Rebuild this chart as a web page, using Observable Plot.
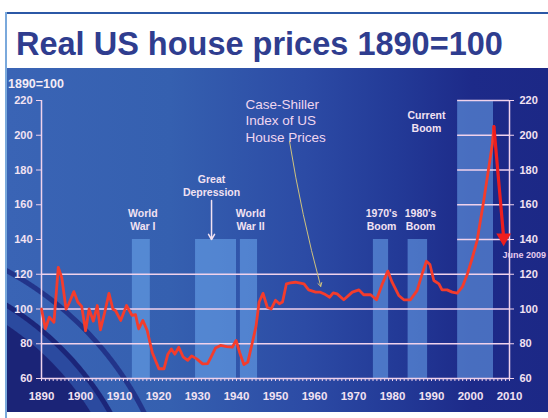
<!DOCTYPE html>
<html>
<head>
<meta charset="utf-8">
<script src="https://cdn.jsdelivr.net/npm/d3@7"></script>
<script src="https://cdn.jsdelivr.net/npm/@observablehq/plot@0.6"></script>
<style>
  html, body { margin: 0; padding: 0; background: #fff; }
  body { width: 548px; height: 418px; position: relative; overflow: hidden; font-family: 'Liberation Sans', Arial, sans-serif; }
  #topline { position: absolute; left: 6px; top: 12px; width: 542px; height: 2px; background: #2b58a6; }
  #leftline { position: absolute; left: 5px; top: 12px; width: 2px; height: 406px; background: #7aa9dc; }
  #title { position: absolute; left: 16px; top: 28px; font-size: 32.5px; line-height: 32px; font-weight: bold; color: #2f3d8f; white-space: nowrap; }
  #panel { position: absolute; left: 7px; top: 68px; width: 541px; height: 344px;
    background:
      radial-gradient(circle at -157px 492px, #1b2477 0 282px, #2b4a9f 283px 296px, #1b2579 297px 301px, rgba(0,0,0,0) 302px),
      radial-gradient(circle at -157px 492px, rgba(0,0,0,0) 0 326px, #22348a 327px 331px, rgba(0,0,0,0) 332px),
      linear-gradient(90deg, #3a64b5 0%, #3560b0 30%, #2c4ba5 55%, #233a97 72%, #1d2a89 86%, #1c2886 100%);
  }
  #base { position: absolute; left: 8px; top: 77px; font-size: 12.5px; font-weight: bold; color: #f4ecf6; }
  #panel svg { overflow: visible; position: absolute; left: 0; top: 0; }
</style>
</head>
<body>
<div id="topline"></div>
<div id="leftline"></div>
<div id="title">Real US house prices 1890=100</div>
<div id="panel"></div>
<div id="base">1890=100</div>
<script>
// ---- Data ----
const years = [1890, 1891, 1892, 1893.2, 1894.3, 1895.2, 1896.3, 1897, 1898.3, 1899.3,
  1900.3, 1901.3, 1902.2, 1903.3, 1904.3, 1905.1, 1906.2, 1907.3, 1908.3, 1909,
  1910.3, 1911.8, 1913.2, 1914.1, 1914.9, 1916, 1917.1, 1918.4, 1920.1, 1921.4,
  1922.4, 1923.3, 1924.2, 1925.2, 1926.3, 1927.5, 1928.5, 1929.8, 1931.3, 1932.6,
  1933.5, 1934.6, 1935.9, 1937.5, 1938.9, 1939.9, 1940.8, 1941.9, 1942.9, 1944.2,
  1945, 1945.8, 1946.8, 1947.9, 1948.9, 1950, 1951, 1951.8, 1952.8, 1953.8,
  1955.1, 1957.3, 1958.5, 1960.3, 1961.5, 1962.8, 1963.9, 1964.8, 1965.8, 1967.5,
  1969.7, 1971.4, 1972.6, 1974.4, 1975.9, 1977.4, 1978.8, 1979.9, 1981.6, 1982.9,
  1984.6, 1986.3, 1987.6, 1988.7, 1989.6, 1990.6, 1991.9, 1992.7, 1994, 1995.3,
  1996.6, 1997.9, 1999.2, 2000.4, 2001.7, 2003.4, 2004.7, 2005.6, 2006];
const prices = [100, 88.6, 95.3, 92.4, 124, 118, 100, 103, 110, 104,
  101.5, 87.5, 100, 93, 102, 88, 98, 109, 100, 99,
  93.4, 102, 96.3, 96.8, 88.6, 93.4, 87.6, 75, 65.6, 65.6,
  74, 77, 74, 78, 72.5, 70.5, 73, 71.3, 68.4, 68.6,
  72.5, 77.5, 79, 78.4, 78, 81.9, 75, 68, 69.4, 82,
  90, 104, 109, 101, 100, 105, 103, 104, 114.5, 115,
  115.4, 114.5, 111, 109.7, 109.7, 108.3, 106.8, 109.3, 108.7, 105.3,
  109.7, 111, 108.2, 108.2, 105.3, 114.5, 121.8, 115.4, 107.8, 105.3,
  105.3, 110.6, 120.2, 127.5, 125.6, 116.4, 114.5, 111, 111, 109.7,
  109.1, 112.7, 120.2, 128.9, 139.4, 162.4, 181.6, 195, 205];

// recent fall (drawn as a bold segment ending in a triangle)
const dropYears = [2006, 2008.5];
const dropPrices = [205, 141];

// shaded periods
const periodStart = [1913.3, 1929.5, 1941, 1975.1, 1984, 1996.7];
const periodEnd   = [1917.9, 1940, 1945.4, 1979, 1989, 2005.9];
const periodTop   = [140, 140, 140, 140, 140, 220];

// annotations
const labelText = ["World\nWar I", "Great\nDepression", "World\nWar II", "1970's\nBoom", "1980's\nBoom", "Current\nBoom"];
const labelYear = [1916, 1933.6, 1943.6, 1977.2, 1987.2, 1988.7];
const labelPrice = [151.8, 171.4, 151.8, 151.8, 151.8, 208.2];

const csText = "Case-Shiller\nIndex of US\nHouse Prices";
const csYear = 1942.3, csPrice = 208.8;
const csPointer = {x1: 1953.6, y1: 196.4, x2: 1961.6, y2: 113};
const gdArrow = {x1: 1933.6, y1: 162.4, x2: 1933.6, y2: 140};
const juneText = "June 2009", juneYear = 2008.2, junePrice = 130.8;

const yTicks = [60, 80, 100, 120, 140, 160, 180, 200, 220];
const xTicks = d3.range(1890, 2011, 10);
const minorTicks = d3.range(1890, 2011, 1);
const gridFull = [80, 100, 120];
const gridBoom = [140, 160, 180, 200, 220];

// ---- Build ----
const series = years.map((y, i) => ({year: y, price: prices[i]}));
const drop = dropYears.map((y, i) => ({year: y, price: dropPrices[i]}));
const periods = periodStart.map((s, i) => ({start: s, end: periodEnd[i], top: periodTop[i]}));
const labels = labelText.map((t, i) => ({text: t, year: labelYear[i], price: labelPrice[i]}));

const ink = "#f2e2f2";
const gridColor = "#f0d2ec";

const chart = Plot.plot({
  width: 541,
  height: 344,
  marginLeft: 34,
  marginRight: 39,
  marginTop: 32,
  marginBottom: 34,
  x: {domain: [1890, 2010]},
  y: {domain: [60, 220]},
  style: {background: "transparent", color: ink, fontFamily: "'Liberation Sans', Arial, sans-serif", overflow: "visible"},
  marks: [
    Plot.rectY(periods, {x1: "start", x2: "end", y1: 60, y2: "top", fill: "#74b2f6", fillOpacity: 0.5}),
    Plot.ruleY(gridFull, {x1: 1890, x2: 2010, stroke: gridColor, strokeWidth: 1.5}),
    Plot.ruleY(gridBoom, {x1: periodStart[5], x2: 2010, stroke: gridColor, strokeWidth: 1.5}),
    Plot.ruleX([1890, 2010], {y1: 60, y2: 220, stroke: gridColor, strokeWidth: 1.5}),
    Plot.ruleY([60], {x1: 1890, x2: 2010, stroke: gridColor, strokeWidth: 1.5}),
    Plot.axisY({anchor: "left", ticks: yTicks, tickSize: 5, tickPadding: 4, fontSize: 11, fontWeight: "bold", stroke: gridColor}),
    Plot.axisY({anchor: "right", ticks: yTicks, tickSize: 4, tickPadding: 6, fontSize: 11, fontWeight: "bold", stroke: gridColor}),
    Plot.axisX({anchor: "bottom", ticks: minorTicks, tickSize: 3, tickFormat: () => "", stroke: gridColor}),
    Plot.axisX({anchor: "bottom", ticks: xTicks, tickSize: 0, tickPadding: 13, tickFormat: d => String(d), fontSize: 11.5, fontWeight: "bold"}),
    Plot.line(series, {x: "year", y: "price", stroke: "#f43c2c", strokeWidth: 2.8, strokeLinejoin: "round"}),
    Plot.line(drop, {x: "year", y: "price", stroke: "#ee1e1e", strokeWidth: 3.2}),
    Plot.dot(drop.slice(1), {x: "year", y: "price", symbol: "triangle", rotate: 180, r: 5.5, fill: "#ee1e1e", stroke: "none"}),
    Plot.text(labels, {x: "year", y: "price", text: "text", fill: ink, fontSize: 10.5, fontWeight: "bold", lineHeight: 1.25}),
    Plot.arrow([gdArrow], {x1: "x1", y1: "y1", x2: "x2", y2: "y2", stroke: ink, strokeWidth: 1.5, headLength: 6}),
    Plot.text([csText], {x: csYear, y: csPrice, text: d => d, textAnchor: "start", fill: "#f0d6f0", fontSize: 13.5, lineHeight: 1.22}),
    Plot.arrow([csPointer], {x1: "x1", y1: "y1", x2: "x2", y2: "y2", stroke: "#cfc27c", strokeWidth: 1, bend: -3, headLength: 6}),
    Plot.text([juneText], {x: juneYear, y: junePrice, text: d => d, textAnchor: "start", fill: "#e6cbee", fontSize: 9, fontWeight: "bold"})
  ]
});
document.getElementById("panel").appendChild(chart);
</script>
</body>
</html>
